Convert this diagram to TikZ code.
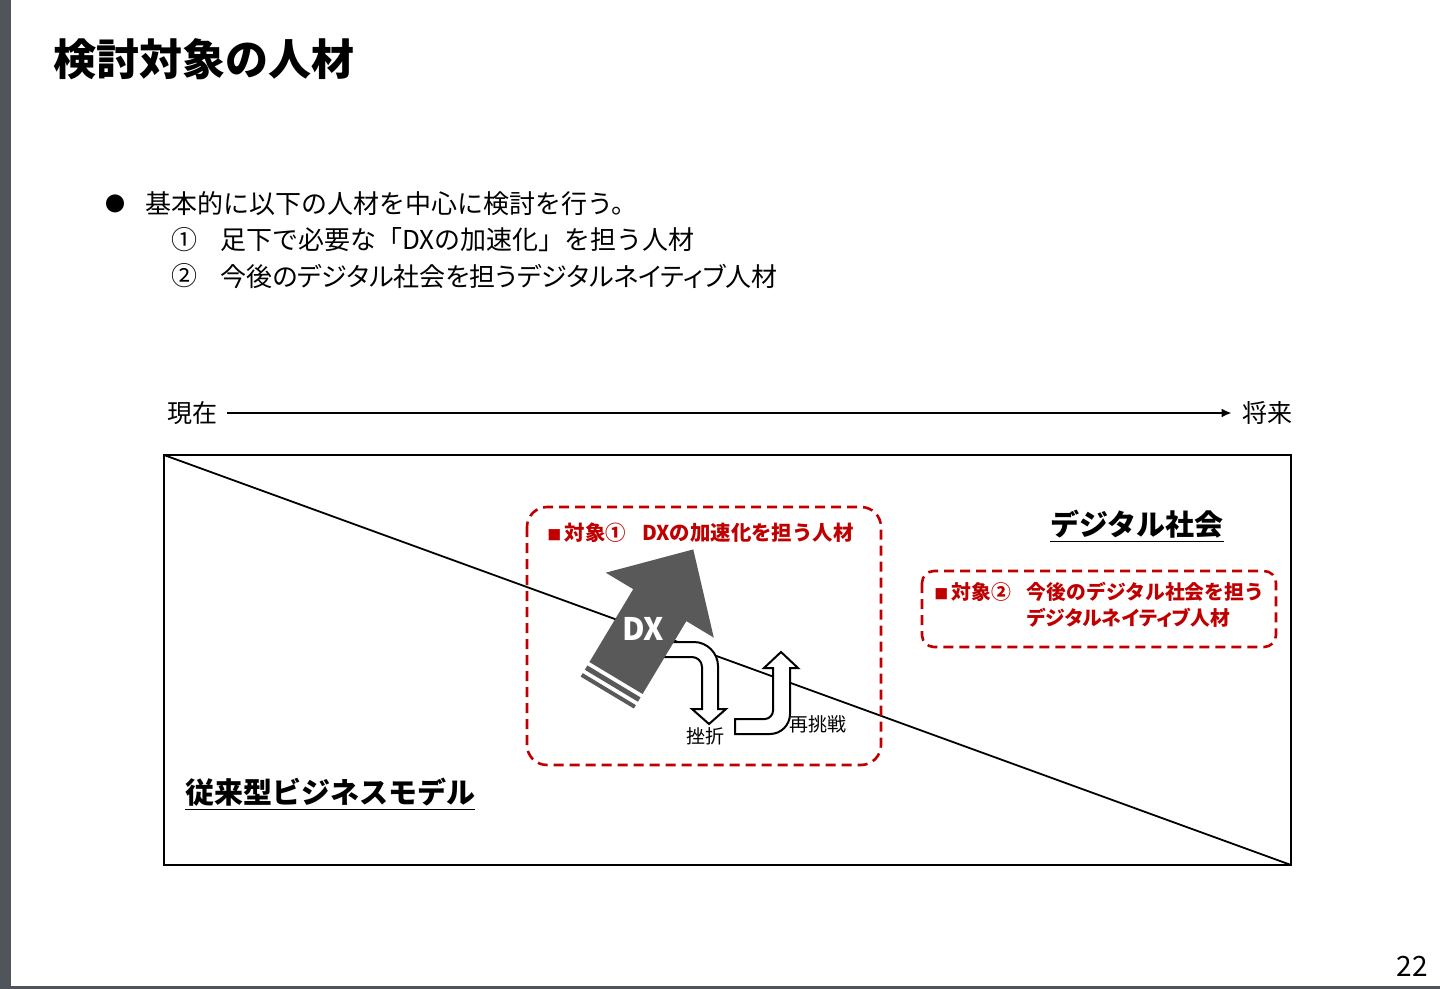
\documentclass[tikz,border=0pt]{standalone}
\usepackage{fontspec}
\setmainfont{Noto Sans CJK JP}
\usepackage{xcolor}
\usetikzlibrary{arrows.meta}

\definecolor{pagegray}{HTML}{4F555A}
\definecolor{tgtred}{HTML}{C00000}
\definecolor{dxgray}{HTML}{595959}

\begin{document}
\begin{tikzpicture}[x=0.5pt, y=-0.5pt,
    every node/.style={inner sep=0pt},
    body/.style={font=\fontsize{13}{16}\selectfont},
    heading/.style={font=\fontsize{14.5}{17}\selectfont\bfseries},
    small/.style={font=\fontsize{9.5}{11}\selectfont},
    redbox/.style={draw=tgtred, line width=1.3pt, dash pattern=on 5pt off 3pt},
    redlabel/.style={anchor=west, text=tgtred, font=\fontsize{10.2}{13}\selectfont\bfseries},
    bendarrow/.style={draw=black, fill=white, line width=1pt, line join=miter}]
    \useasboundingbox (0,0) rectangle (1440,989);

    % page
    \fill[pagegray] (0,0) rectangle (1440,989);
    \fill[white] (11,0) rectangle (1440,986);

    % title
    \node[anchor=west, font=\fontsize{21.5}{26}\selectfont\bfseries] (title) at (53,59) {検討対象の人材};

    % bullet lines
    \node[font=\fontsize{10}{12}\selectfont] (bulletmark) at (115,204) {●};
    \node[body, anchor=west] (intro) at (145,204) {基本的に以下の人材を中心に検討を行う。};
    \node[body] (numone) at (184,240) {①};
    \node[body, anchor=west] (itemone) at (220,240) {足下で必要な「DXの加速化」を担う人材};
    \node[body] (numtwo) at (184,276) {②};
    \node[body, anchor=west] (itemtwo) at (220,276) {\addfontfeature{RawFeature=+palt}今後のデジタル社会を担うデジタルネイティブ人材};

    % time axis
    \node[font=\fontsize{12.5}{15}\selectfont, inner sep=5pt] (now) at (192,413) {現在};
    \node[font=\fontsize{12.5}{15}\selectfont, inner sep=5pt] (future) at (1267,413) {将来};
    \draw[-{Latex[length=5pt,width=4.5pt]}, line width=1.2pt] (now) -- (future);

    % frame with diagonal
    \coordinate (frameNW) at (164,455);
    \coordinate (frameSE) at (1291,865);
    \draw[line width=1.2pt] (frameNW) rectangle (frameSE);
    \draw[line width=0.9pt] (frameNW) -- (frameSE);

    \node[heading] (digisoc) at (1137,526) {\underline{デジタル社会}};
    \node[heading] (oldmodel) at (330,794) {\underline{従来型ビジネスモデル}};

    % target 1
    \draw[redbox, rounded corners=10pt] (527,507) rectangle (881,765);
    \node[redlabel] (targetone) at (547,533) {{\fontsize{7}{9}\selectfont ■}\,対象①\hspace{0.8em}DXの加速化を担う人材};

    % target 2
    \draw[redbox, rounded corners=6pt] (922,571) rectangle (1276,647);
    \node[redlabel, font=\fontsize{9.9}{13}\selectfont\bfseries] (targettwo) at (934,607) {\begin{tabular}{@{}l@{\hspace{0.8em}}l@{}}{\fontsize{7}{9}\selectfont ■}\,対象② & 今後のデジタル社会を担う\\ & \addfontfeature{RawFeature=+palt}デジタルネイティブ人材\end{tabular}};

    % setback and retry
    \draw[bendarrow] (660,642) -- (694,642) .. controls (707,642) and (718,653) .. (718,666)
        -- (718,709) -- (726,709) -- (709,724) -- (692,709) -- (702,709) -- (702,667)
        .. controls (702,661) and (697,657) .. (692,657) -- (660,657) -- cycle;
    \draw[bendarrow] (735,719) -- (765,719) .. controls (769,719) and (773,715) .. (773,711)
        -- (773,668) -- (764,668) -- (781,652) -- (798,668) -- (790,668) -- (790,714)
        .. controls (790,725) and (781,734) .. (770,734) -- (735,734) -- cycle;
    \node[small] (setback) at (705,736) {挫折};
    \node[small] (retry) at (818,724) {再挑戦};

    % DX arrow
    \begin{scope}[shift={(616,678)}, rotate=59]
        \fill[dxgray] (0,-31) -- (85,-31) -- (85,-63) -- (150,0) -- (85,63) -- (85,31) -- (0,31) -- cycle;
        \fill[dxgray] (-4,-31) rectangle (-9,31);
        \fill[dxgray] (-13,-31) rectangle (-17,31);
    \end{scope}
    \node[font=\fontsize{15.5}{18}\selectfont\bfseries, text=white] (dxlabel) at (643,629) {DX};

    % page number
    \node[font=\fontsize{14}{16}\selectfont] (pagenum) at (1412,966) {22};
\end{tikzpicture}
\end{document}
